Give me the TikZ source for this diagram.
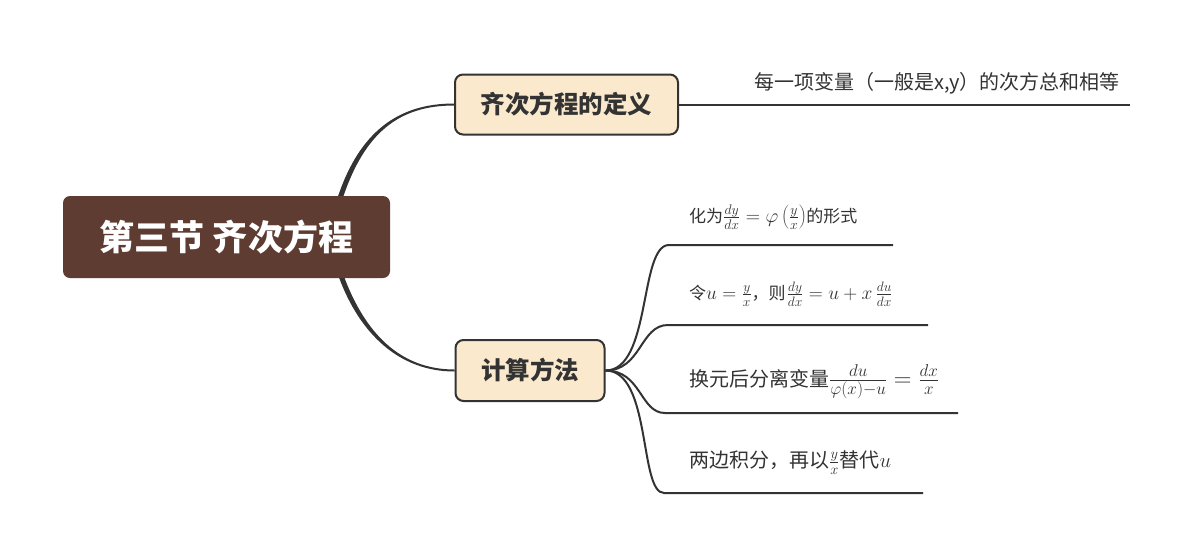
\RequirePackage{fix-cm}
\documentclass[tikz,border=0pt]{standalone}
\usepackage{fontspec}
\newfontfamily\cjk{Noto Sans CJK SC}
\usetikzlibrary{calc}
\pgfdeclarelayer{background}
\pgfsetlayers{background,main}
\newcommand\mth[2]{{\fontsize{#1}{#1}\selectfont$#2$}}
\definecolor{rootc}{HTML}{5E3C31}
\definecolor{topicc}{HTML}{FAE9CD}
\definecolor{linec}{HTML}{333333}
\definecolor{textc}{HTML}{333333}
\begin{document}
\begin{tikzpicture}[x=1pt,y=-1pt,
  rootbox/.style={rectangle, rounded corners=7pt, fill=rootc, text=white,
    font=\cjk\bfseries\fontsize{35}{40}\selectfont, minimum width=327pt, minimum height=82pt, inner sep=0pt},
  topicbox/.style={rectangle, rounded corners=8pt, draw=linec, line width=2pt, fill=topicc, text=textc,
    font=\cjk\bfseries\fontsize{24.5}{28}\selectfont, inner sep=0pt},
  leafsmall/.style={anchor=base west, inner sep=0pt, text=textc, font=\cjk\fontsize{17}{20}\selectfont},
  leaflarge/.style={anchor=base west, inner sep=0pt, text=textc, font=\cjk\fontsize{20}{24}\selectfont},
  conn/.style={draw=linec, line width=2pt},
  ]
\useasboundingbox (0,0) rectangle (1192,558);

\node[rootbox] (root) at (226.5,237) {第三节 齐次方程};
\node[topicbox, minimum width=223pt, minimum height=60pt] (n1) at (566.5,104.5) {齐次方程的定义};
\node[topicbox, minimum width=149pt, minimum height=61pt] (n2) at (530,370.5) {计算方法};

\node[leaflarge] (l0) at (754,89.5) {每一项变量（一般是x,y）的次方总和相等};
\node[leafsmall] (l1) at (689,222.5) {化为\mth{19.8}{\frac{dy}{dx}=\varphi\left(\frac{y}{x}\right)}的形式};
\node[leafsmall] (l2) at (689,299.5) {令\mth{19.4}{u=\frac{y}{x}}，则\kern1pt\mth{19.4}{\frac{dy}{dx}=u+x\,\frac{du}{dx}}};
\node[leaflarge] (l3) at (689,386.5) {换元后分离变量\mth{24.5}{\frac{du}{\varphi(x)-u}=\frac{dx}{x}}};
\node[leaflarge] (l4) at (689,467.5) {两边积分，再以\mth{20.7}{\frac{y}{x}}替代\mth{20.7}{u}};

\coordinate (t0) at (1130,104.5);
\coordinate (h1) at (669,245);
\coordinate (t1) at (893,245);
\coordinate (h2) at (668,325);
\coordinate (t2) at (928,325);
\coordinate (h3) at (665,413);
\coordinate (t3) at (958,413);
\coordinate (h4) at (664,493);
\coordinate (t4) at (923,493);

\begin{pgfonlayer}{background}
\fill[white] (0,0) rectangle (1192,558);
\coordinate (s1) at ([xshift=-50pt,yshift=-2pt]root.north east);
\coordinate (e1) at (n1.west);
\fill[linec] ($(s1)+(-2.4,-0.8)$) .. controls ($(s1)+(19.6,-66.8)$) and ($(e1)+(-55,-1)$) .. ($(e1)+(0,-1)$)
  -- ($(e1)+(0,1)$) .. controls ($(e1)+(-55,1)$) and ($(s1)+(24.4,-65.2)$) .. ($(s1)+(2.4,0.8)$) -- cycle;
\coordinate (s2) at ([xshift=-49pt,yshift=2pt]root.south east);
\coordinate (e2) at (n2.west);
\fill[linec] ($(s2)+(2.35,-0.87)$) .. controls ($(s2)+(23.35,56.13)$) and ($(e2)+(-55,-1)$) .. ($(e2)+(0,-1)$)
  -- ($(e2)+(0,1)$) .. controls ($(e2)+(-55,1)$) and ($(s2)+(18.65,57.87)$) .. ($(s2)+(-2.35,0.87)$) -- cycle;
\draw[conn] (n1.east) -- (t0);
\draw[conn] (n2.east) .. controls +(46,0) and +(-30,0) .. (h1) -- (t1);
\draw[conn] (n2.east) .. controls +(36,0) and +(-28,0) .. (h2) -- (t2);
\draw[conn] (n2.east) .. controls +(36,0) and +(-25,0) .. (h3) -- (t3);
\draw[conn] (n2.east) .. controls +(46,0) and +(-25,0) .. (h4) -- (t4);
\end{pgfonlayer}
\end{tikzpicture}
\end{document}
